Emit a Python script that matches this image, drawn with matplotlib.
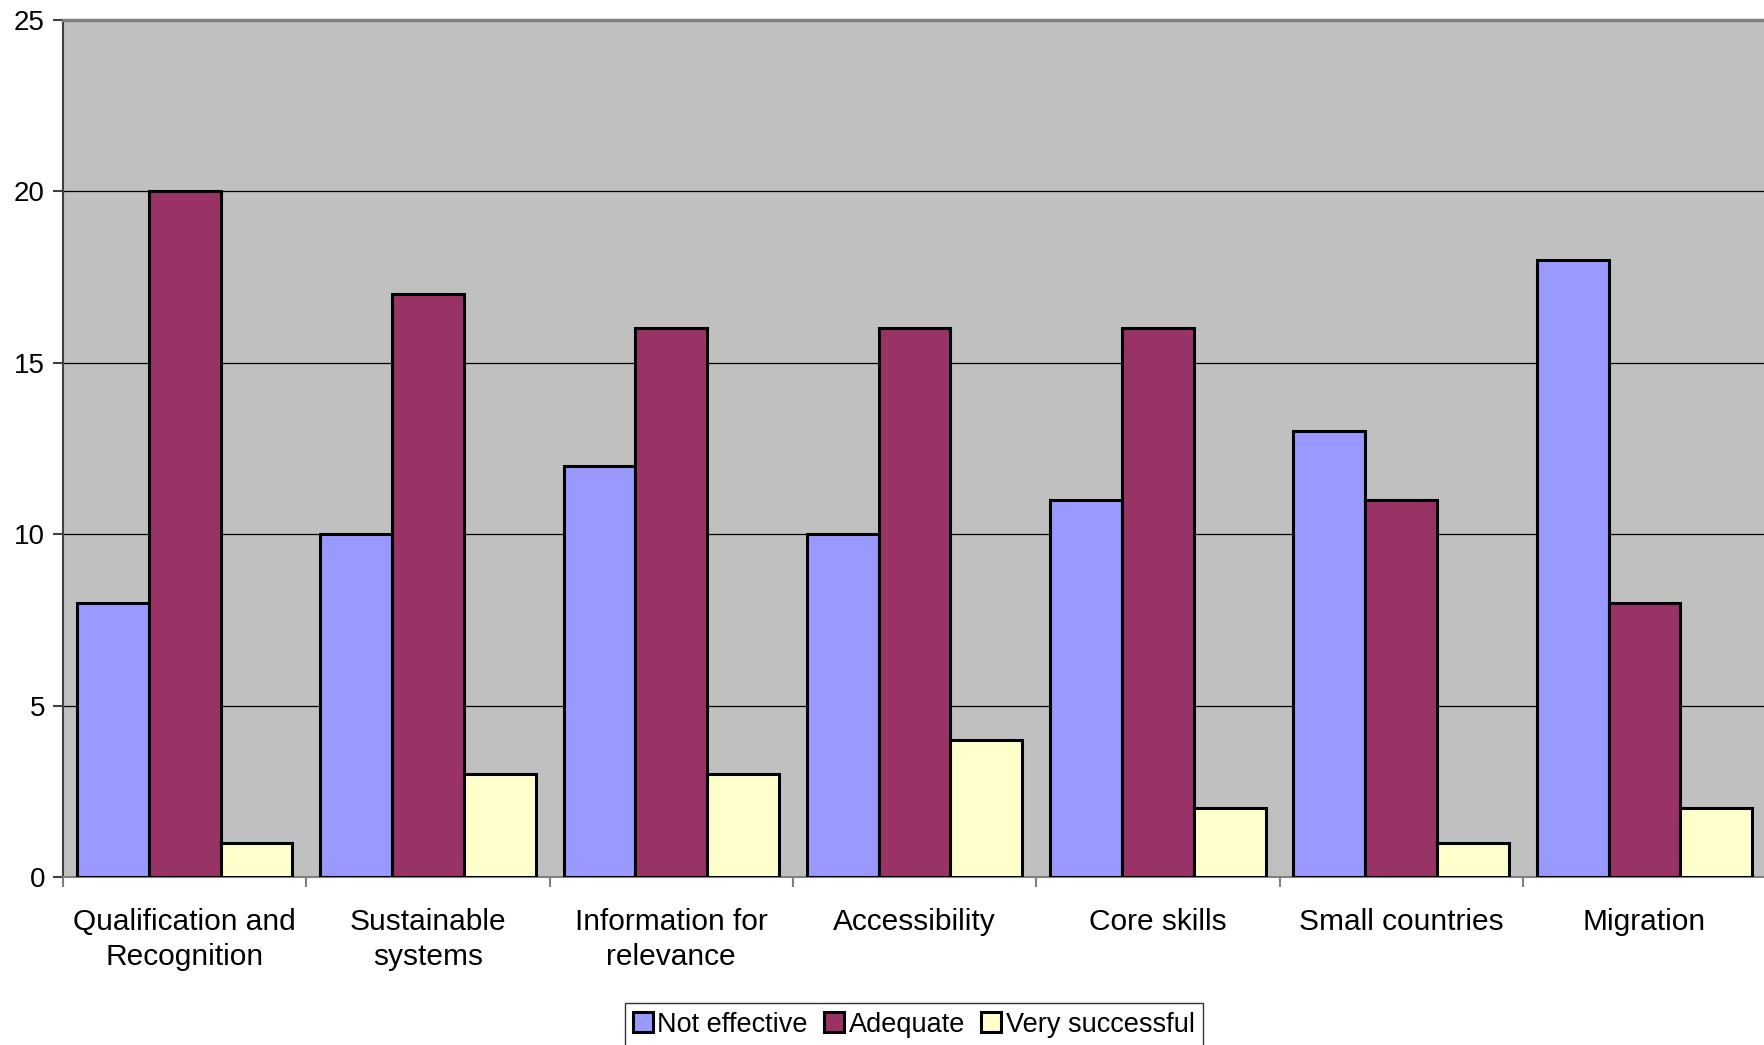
import matplotlib.pyplot as plt
import numpy as np

plt.rcParams['font.family'] = ['Liberation Sans', 'DejaVu Sans']

categories = ["Qualification and\nRecognition", "Sustainable\nsystems",
              "Information for\nrelevance", "Accessibility", "Core skills",
              "Small countries", "Migration"]
not_effective = [8, 10, 12, 10, 11, 13, 18]
adequate = [20, 17, 16, 16, 16, 11, 8]
very_successful = [1, 3, 3, 4, 2, 1, 2]

series = [("Not effective", not_effective, "#9999FF"),
          ("Adequate", adequate, "#993366"),
          ("Very successful", very_successful, "#FFFFCC")]

fig = plt.figure(figsize=(17.64, 10.45), dpi=100)
ax = fig.add_axes([0.0357, 0.1608, 0.9655, 0.8201])
ax.set_facecolor("#C0C0C0")

x = np.arange(len(categories)) + 0.5
w = 0.295
for i, (name, vals, col) in enumerate(series):
    ax.bar(x + (i - 1) * w, vals, w, color=col, edgecolor="black",
           linewidth=2.2, label=name, zorder=3)

ax.set_xlim(0, len(categories))
ax.set_ylim(0, 25)
ax.set_yticks([0, 5, 10, 15, 20, 25])
ax.yaxis.grid(True, color="black", linewidth=0.9, zorder=1)
ax.set_axisbelow(True)

# boundaries between groups get the tick marks, centres get the labels
ax.set_xticks(np.arange(len(categories) + 1))
ax.set_xticklabels([])
ax.set_xticks(x, minor=True)
ax.set_xticklabels(categories, minor=True, fontsize=21.5, linespacing=1.35)
ax.tick_params(axis="x", which="minor", length=0, pad=22)
ax.tick_params(axis="x", which="major", length=7, width=1.5, color="#808080")
ax.tick_params(axis="y", length=7, width=1.5, color="#404040",
               labelsize=20, pad=6)

ax.spines["top"].set_color("#808080")
ax.spines["top"].set_linewidth(2.5)
ax.spines["left"].set_color("#404040")
ax.spines["left"].set_linewidth(1.5)
ax.spines["bottom"].set_color("#808080")
ax.spines["bottom"].set_linewidth(1.5)
ax.spines["right"].set_visible(False)

leg = fig.legend(loc="center", bbox_to_anchor=(0.518, 0.0195), ncol=3,
                 fontsize=19.5, frameon=True, fancybox=False,
                 edgecolor="black", handlelength=0.75, handleheight=0.75,
                 handletextpad=0.15, columnspacing=0.6, borderpad=0.3,
                 borderaxespad=0)
leg.get_frame().set_linewidth(1)

fig.savefig("out.png", dpi=100)
